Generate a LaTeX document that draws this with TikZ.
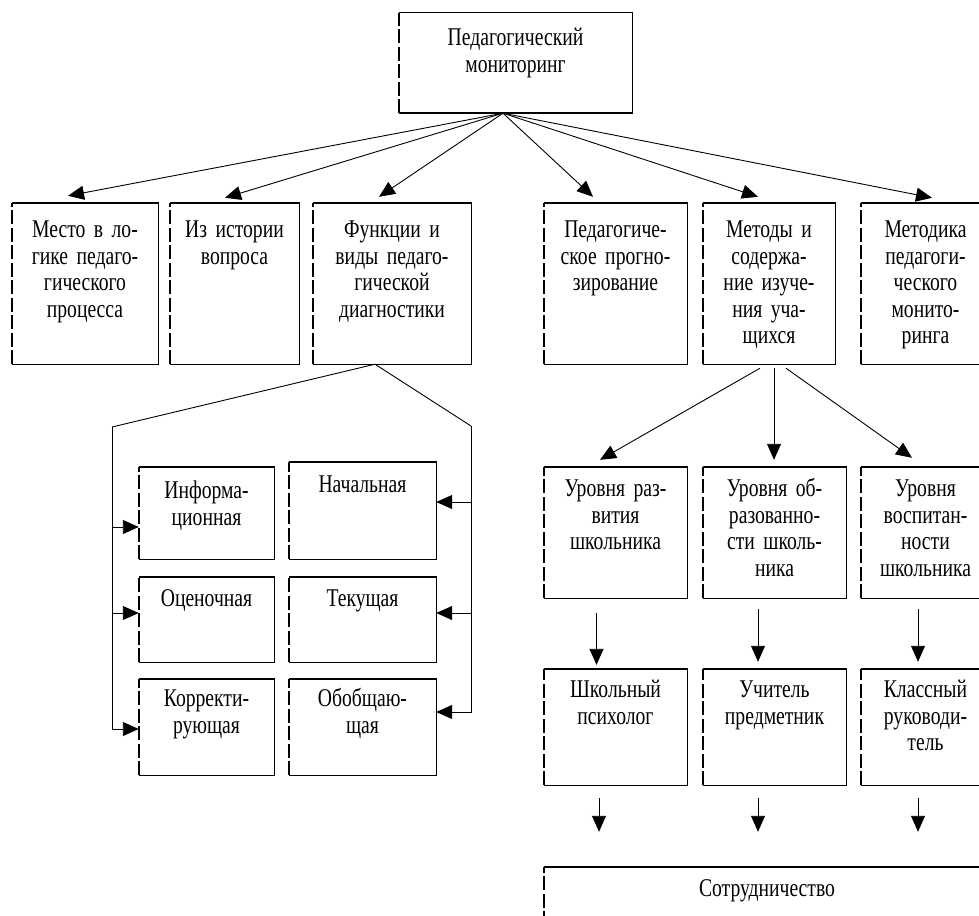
\documentclass[tikz,border=0pt]{standalone}
\usepackage{fontspec}
\setmainfont{Liberation Serif}[FakeStretch=0.77]
\usetikzlibrary{arrows.meta}

\tikzset{
  box/.style={rectangle, inner sep=0pt, draw=none},
  rim/.style={line width=1.4pt},
  rimdash/.style={line width=1.4pt, dash pattern=on 14pt off 3.5pt},
  txt/.style={anchor=base, align=center, inner sep=0pt, font=\fontsize{25.5}{26.5}\selectfont},
  ln/.style={line width=0.9pt},
  arr/.style={line width=0.9pt, -{Triangle[length=16pt,width=14pt]}}
}

\begin{document}
\begin{tikzpicture}[x=1pt,y=-1pt]
  \useasboundingbox (0,0) rectangle (979,915);
  \clip (0,0) rectangle (979,915);

  % top box
  \node[box, minimum width=233pt, minimum height=100pt] (top) at (515.5,63) {};
  \node[txt, text width=233pt] (topt) at ([yshift=-33pt]top.north) {Педагогический\\мониторинг};

  % first row
  \node[box, minimum width=146pt, minimum height=161pt] (m1) at (85,283.5) {};
  \node[box, minimum width=129pt, minimum height=161pt] (m2) at (234.5,283.5) {};
  \node[box, minimum width=158pt, minimum height=161pt] (m3) at (392,283.5) {};
  \node[box, minimum width=143pt, minimum height=161pt] (m4) at (615.5,283.5) {};
  \node[box, minimum width=132pt, minimum height=161pt] (m5) at (769,283.5) {};
  \node[box, minimum width=129pt, minimum height=161pt] (m6) at (925.5,283.5) {};
  \node[txt, text width=146pt] (m1t) at ([yshift=-35pt]m1.north) {Место в ло-\\гике педаго-\\гического\\процесса};
  \node[txt, text width=129pt] (m2t) at ([yshift=-35pt]m2.north) {Из истории\\вопроса};
  \node[txt, text width=158pt] (m3t) at ([yshift=-35pt]m3.north) {Функции и\\виды педаго-\\гической\\диагностики};
  \node[txt, text width=143pt] (m4t) at ([yshift=-35pt]m4.north) {Педагогиче-\\ское прогно-\\зирование};
  \node[txt, text width=132pt] (m5t) at ([yshift=-35pt]m5.north) {Методы и\\содержа-\\ние изуче-\\ния уча-\\щихся};
  \node[txt, text width=129pt] (m6t) at ([yshift=-35pt]m6.north) {Методика\\педагоги-\\ческого\\монито-\\ринга};

  % functions and kinds
  \node[box, minimum width=135pt, minimum height=92pt] (f1) at (206.5,513) {};
  \node[box, minimum width=135pt, minimum height=85pt] (f2) at (206.5,619.5) {};
  \node[box, minimum width=135pt, minimum height=96pt] (f3) at (206.5,727) {};
  \node[box, minimum width=147pt, minimum height=97pt] (v1) at (362.5,510.5) {};
  \node[box, minimum width=147pt, minimum height=85pt] (v2) at (362.5,619.5) {};
  \node[box, minimum width=147pt, minimum height=96pt] (v3) at (362.5,727) {};
  \node[txt, text width=135pt] (f1t) at ([yshift=-32pt]f1.north) {Информа-\\ционная};
  \node[txt, text width=135pt] (f2t) at ([yshift=-30pt]f2.north) {Оценочная};
  \node[txt, text width=135pt] (f3t) at ([yshift=-28pt]f3.north) {Корректи-\\рующая};
  \node[txt, text width=147pt] (v1t) at ([yshift=-31pt]v1.north) {Начальная};
  \node[txt, text width=147pt] (v2t) at ([yshift=-30pt]v2.north) {Текущая};
  \node[txt, text width=147pt] (v3t) at ([yshift=-28pt]v3.north) {Обобщаю-\\щая};

  % levels of the pupil
  \node[box, minimum width=143pt, minimum height=131pt] (u1) at (615.5,532.5) {};
  \node[box, minimum width=143pt, minimum height=131pt] (u2) at (774.5,532.5) {};
  \node[box, minimum width=129pt, minimum height=131pt] (u3) at (925.5,532.5) {};
  \node[txt, text width=143pt] (u1t) at ([yshift=-30pt]u1.north) {Уровня раз-\\вития\\школьника};
  \node[txt, text width=143pt] (u2t) at ([yshift=-30pt]u2.north) {Уровня об-\\разованно-\\сти школь-\\ника};
  \node[txt, text width=129pt] (u3t) at ([yshift=-30pt]u3.north) {Уровня\\воспитан-\\ности\\школьника};

  % who studies
  \node[box, minimum width=143pt, minimum height=116pt] (p1) at (615.5,727) {};
  \node[box, minimum width=143pt, minimum height=116pt] (p2) at (774.5,727) {};
  \node[box, minimum width=129pt, minimum height=116pt] (p3) at (925.5,727) {};
  \node[txt, text width=143pt] (p1t) at ([yshift=-29pt]p1.north) {Школьный\\психолог};
  \node[txt, text width=143pt] (p2t) at ([yshift=-29pt]p2.north) {Учитель\\предметник};
  \node[txt, text width=129pt] (p3t) at ([yshift=-29pt]p3.north) {Классный\\руководи-\\тель};

  \node[box, minimum width=446pt, minimum height=93pt] (co) at (767,913.5) {};
  \node[txt, text width=446pt] (cot) at ([yshift=-30pt]co.north) {Сотрудничество};

  % box outlines, left side broken
  \foreach \b in {top,m1,m2,m3,m4,m5,m6,f1,f2,f3,v1,v2,v3,u1,u2,u3,p1,p2,p3,co} {
    \draw[rim] (\b.north west) -- (\b.north east) -- (\b.south east) -- (\b.south west);
    \draw[rimdash] (\b.south west) -- (\b.north west);
  }

  % fan from the top
  \coordinate (hub) at ([xshift=-12.5pt]top.south);
  \draw[arr] (hub) -- ([xshift=-17pt,yshift=7pt]m1.north);
  \draw[arr] (hub) -- ([xshift=-9.5pt,yshift=5pt]m2.north);
  \draw[arr] (hub) -- ([xshift=-13pt,yshift=6pt]m3.north);
  \draw[arr] (hub) -- ([xshift=-22.5pt,yshift=6pt]m4.north);
  \draw[arr] (hub) -- ([xshift=-11pt,yshift=6pt]m5.north);
  \draw[arr] (hub) -- ([xshift=6.5pt,yshift=5pt]m6.north);

  % functions / kinds
  \coordinate (fs) at ([xshift=-17pt]m3.south);
  \coordinate (lt) at (112,427);
  \coordinate (rt) at (471,426);
  \draw[ln] (fs) -- (lt);
  \draw[ln] (fs) -- (rt);
  \draw[arr] (lt) |- ([yshift=-14pt]f1.west);
  \draw[arr] (lt) |- ([yshift=6.5pt]f2.west);
  \draw[arr] (lt) |- ([yshift=-2pt]f3.west);
  \draw[arr] (rt) |- ([yshift=8.5pt]v1.east);
  \draw[arr] (rt) |- ([yshift=6.5pt]v2.east);
  \draw[arr] (rt) |- ([yshift=15pt]v3.east);

  % methods -> levels
  \draw[arr] ([xshift=-9pt,yshift=-4pt]m5.south) -- ([xshift=-15.5pt,yshift=7pt]u1.north);
  \draw[arr] ([xshift=5pt,yshift=-4pt]m5.south) -- ([xshift=-0.5pt,yshift=7pt]u2.north);
  \draw[arr] ([xshift=17pt,yshift=-4pt]m5.south) -- ([xshift=-13.5pt,yshift=9pt]u3.north);

  % levels -> people -> cooperation
  \draw[arr] ([xshift=-19pt,yshift=-15pt]u1.south) -- ([xshift=-19pt,yshift=4pt]p1.north);
  \draw[arr] ([xshift=-16.5pt,yshift=-11pt]u2.south) -- ([xshift=-16.5pt,yshift=7pt]p2.north);
  \draw[arr] ([xshift=-7.5pt,yshift=-11pt]u3.south) -- ([xshift=-7.5pt,yshift=7pt]p3.north);
  \foreach \p/\dx in {p1/-16.5,p2/-16.5,p3/-7.5}
    \draw[arr, shorten >=35pt] ([xshift=\dx pt,yshift=-13pt]\p.south) -- ([xshift=\dx pt]\p.south |- co.north);
\end{tikzpicture}
\end{document}
